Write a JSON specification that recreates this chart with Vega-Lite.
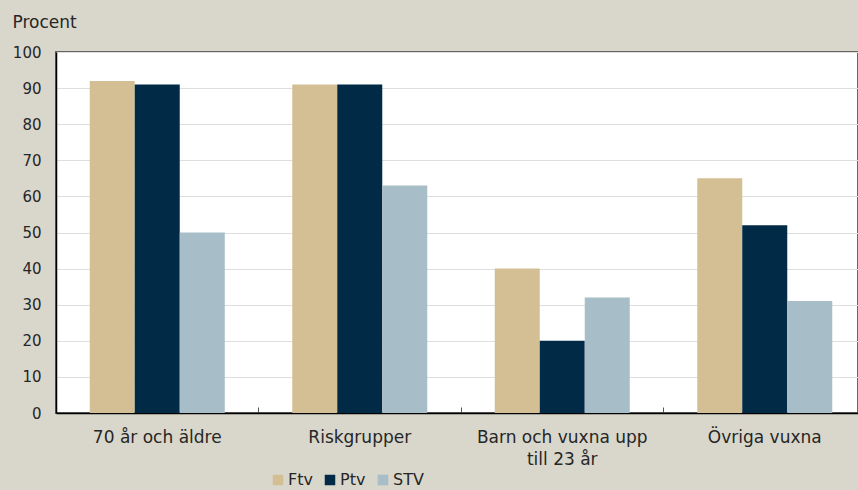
{
  "$schema": "https://vega.github.io/schema/vega-lite/v6.json",
  "autosize": {"type": "none"},
  "width": 802,
  "height": 361,
  "padding": {"left": 56, "top": 52, "right": 0, "bottom": 77},
  "background": "#d9d7cb",
  "config": {
    "font": "DejaVu Sans",
    "view": {"fill": "white", "stroke": "#666666", "strokeWidth": 2},
    "axis": {"labelFont": "DejaVu Sans", "labelColor": "#262626", "titleFont": "DejaVu Sans", "titleColor": "#262626"},
    "legend": {"labelFont": "DejaVu Sans", "labelFontSize": 16, "labelColor": "#262626"}
  },
  "data": {
    "values": [
      {"grupp": "70 år och äldre", "serie": "Ftv", "procent": 92},
      {"grupp": "70 år och äldre", "serie": "Ptv", "procent": 91},
      {"grupp": "70 år och äldre", "serie": "STV", "procent": 50},
      {"grupp": "Riskgrupper", "serie": "Ftv", "procent": 91},
      {"grupp": "Riskgrupper", "serie": "Ptv", "procent": 91},
      {"grupp": "Riskgrupper", "serie": "STV", "procent": 63},
      {"grupp": "Barn och vuxna upp till 23 år", "serie": "Ftv", "procent": 40},
      {"grupp": "Barn och vuxna upp till 23 år", "serie": "Ptv", "procent": 20},
      {"grupp": "Barn och vuxna upp till 23 år", "serie": "STV", "procent": 32},
      {"grupp": "Övriga vuxna", "serie": "Ftv", "procent": 65},
      {"grupp": "Övriga vuxna", "serie": "Ptv", "procent": 52},
      {"grupp": "Övriga vuxna", "serie": "STV", "procent": 31}
    ]
  },
  "mark": {"type": "bar"},
  "encoding": {
    "x": {
      "field": "grupp",
      "type": "nominal",
      "sort": null,
      "scale": {"paddingInner": 0, "paddingOuter": 0, "range": [0, 810]},
      "axis": {
        "title": null,
        "labelAngle": 0,
        "labelFontSize": 17,
        "labelPadding": 22,
        "labelLineHeight": 22,
        "labelExpr": "datum.value == 'Barn och vuxna upp till 23 år' ? ['Barn och vuxna upp', 'till 23 år'] : datum.value",
        "bandPosition": 0,
        "ticks": true,
        "tickSize": -6,
        "tickColor": "#555555",
        "domainColor": "#000000",
        "domainWidth": 1.5,
        "grid": false
      }
    },
    "xOffset": {
      "field": "serie",
      "type": "nominal",
      "sort": ["Ftv", "Ptv", "STV"],
      "scale": {"paddingInner": 0, "paddingOuter": 0.75}
    },
    "y": {
      "field": "procent",
      "type": "quantitative",
      "scale": {"domain": [0, 100], "nice": false},
      "axis": {
        "title": "Procent",
        "titleAngle": 0,
        "titleAlign": "left",
        "titleBaseline": "alphabetic",
        "titleFontSize": 17,
        "titleFontWeight": "normal",
        "titleX": -44,
        "titleY": -25,
        "values": [0, 10, 20, 30, 40, 50, 60, 70, 80, 90, 100],
        "ticks": false,
        "labelFontSize": 15,
        "labelPadding": 15,
        "domainColor": "#000000",
        "domainWidth": 1.5,
        "grid": true,
        "gridColor": "#dedede",
        "gridWidth": 1
      }
    },
    "color": {
      "field": "serie",
      "type": "nominal",
      "sort": ["Ftv", "Ptv", "STV"],
      "scale": {"domain": ["Ftv", "Ptv", "STV"], "range": ["#d4bf94", "#002a45", "#a7bdc8"]},
      "legend": {
        "title": null,
        "orient": "none",
        "direction": "horizontal",
        "legendX": 214,
        "legendY": 420,
        "symbolType": "square",
        "symbolSize": 110,
        "symbolStrokeWidth": 0,
        "symbolOpacity": 1,
        "labelOffset": 2,
        "columnPadding": 9
      }
    }
  }
}
